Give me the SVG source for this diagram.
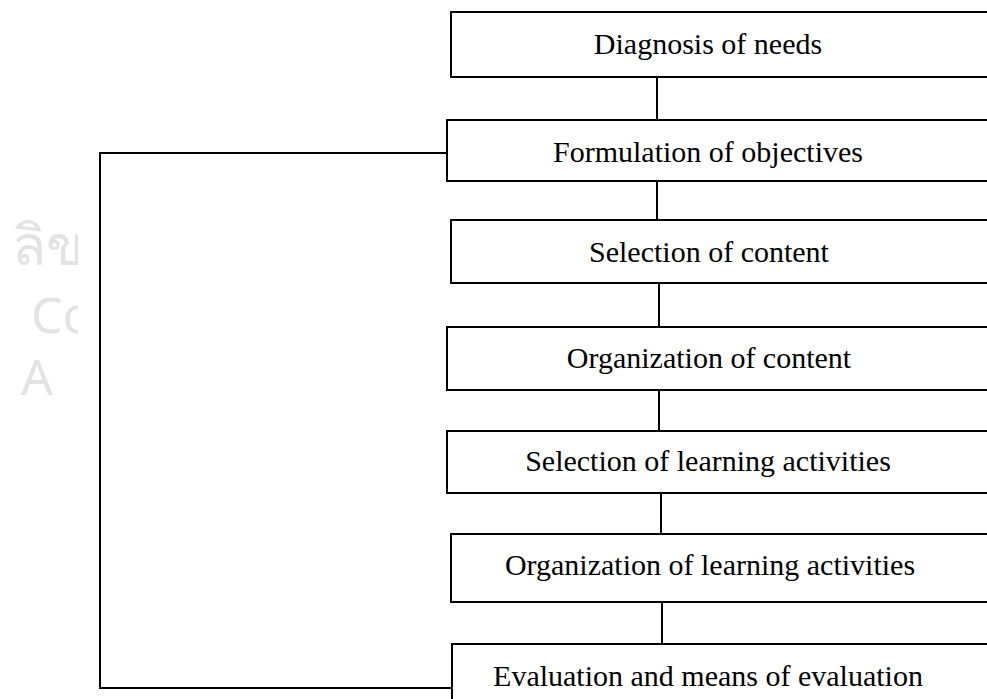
<svg xmlns="http://www.w3.org/2000/svg" width="987" height="699" viewBox="0 0 987 699">
  <style>
    .box { fill: #ffffff; stroke: #000000; stroke-width: 2; }
    .lbl { font-family: "Liberation Serif", "Times New Roman", serif; font-size: 30px; fill: #000000; text-anchor: middle; }
    .link { fill: none; stroke: #000000; stroke-width: 2; }
    .mark { font-family: "Noto Sans", "DejaVu Sans", sans-serif; fill: #e3e3e3; }
  </style>
  <defs>
    <clipPath id="markClip">
      <rect x="0" y="180" width="78" height="240"/>
    </clipPath>
  </defs>
  <rect width="987" height="699" fill="#ffffff"/>

  <!-- faint watermark on the left edge -->
  <g id="watermark" clip-path="url(#markClip)">
    <text class="mark" x="12" y="265" font-size="56">ลิข</text>
    <text class="mark" x="31" y="333" font-size="50">Co</text>
    <text class="mark" x="21" y="395" font-size="50">A</text>
  </g>

  <!-- connectors -->
  <g id="connectors">
    <line class="link" x1="657" y1="77" x2="657" y2="120"/>
    <line class="link" x1="657" y1="181" x2="657" y2="220"/>
    <line class="link" x1="659" y1="283" x2="659" y2="327"/>
    <line class="link" x1="659" y1="390" x2="659" y2="431"/>
    <line class="link" x1="661" y1="493" x2="661" y2="534"/>
    <line class="link" x1="662" y1="602" x2="662" y2="644"/>
    <!-- feedback loop from evaluation back to objectives -->
    <polyline class="link" points="447,153 100,153 100,688 452,688"/>
  </g>

  <g id="diagnosis">
    <rect class="box" x="451" y="12" width="560" height="65"/>
    <text class="lbl" x="708" y="54">Diagnosis of needs</text>
  </g>
  <g id="objectives">
    <rect class="box" x="447" y="120" width="560" height="61"/>
    <text class="lbl" x="708" y="162">Formulation of objectives</text>
  </g>
  <g id="content-selection">
    <rect class="box" x="451" y="220" width="560" height="63"/>
    <text class="lbl" x="709" y="262">Selection of content</text>
  </g>
  <g id="content-organization">
    <rect class="box" x="447" y="327" width="560" height="63"/>
    <text class="lbl" x="709" y="368">Organization of content</text>
  </g>
  <g id="activities-selection">
    <rect class="box" x="447" y="431" width="560" height="62"/>
    <text class="lbl" x="708" y="471">Selection of learning activities</text>
  </g>
  <g id="activities-organization">
    <rect class="box" x="451" y="534" width="560" height="68"/>
    <text class="lbl" x="710" y="575">Organization of learning activities</text>
  </g>
  <g id="evaluation">
    <rect class="box" x="452" y="644" width="560" height="80"/>
    <text class="lbl" x="708" y="686">Evaluation and means of evaluation</text>
  </g>
</svg>
